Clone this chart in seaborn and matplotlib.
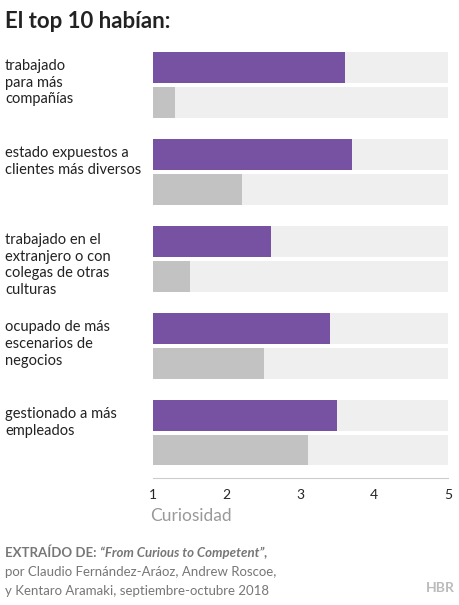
import matplotlib
matplotlib.use("Agg")
import matplotlib.pyplot as plt
import seaborn as sns

labels = ["trabajado\npara más\ncompañías",
          "estado expuestos a\nclientes más diversos",
          "trabajado en el\nextranjero o con\ncolegas de otras\nculturas",
          "ocupado de más\nescenarios de\nnegocios",
          "gestionado a más\nempleados"]
top10 = [3.6, 3.7, 2.6, 3.4, 3.5]
others = [1.3, 2.2, 1.5, 2.5, 3.1]
ticks = [1, 2, 3, 4, 5]

sns.set_style("white")
plt.rcParams['font.family'] = ['Lato', 'DejaVu Sans']

fig = plt.figure(figsize=(4.6, 6.05), dpi=100)
W, H = 460, 605
ax = fig.add_axes([153 / W, 1 - 465 / H, 295 / W, 413 / H])

step, bh, gap = 87, 31, 4
for i in range(len(labels)):
    y0 = i * step
    for y, v, c in [(y0, top10[i], "#7752a3"), (y0 + bh + gap, others[i], "#c2c2c2")]:
        ax.barh(y, 5 - 1, left=1, height=bh, align='edge', color="#efefef", lw=0)
        ax.barh(y, v - 1, left=1, height=bh, align='edge', color=c, lw=0)
    fig.text(5 / W, 1 - (y0 + 52 + 7) / H, labels[i], ha='left', va='top',
             fontsize=10.5, color="#222222", linespacing=1.25)

ax.set_xlim(1, 5)
ax.set_ylim(413, 0)
ax.set_yticks([])
ax.set_xticks(ticks)
ax.set_xticklabels([str(t) for t in ticks], fontsize=12, color="#999999")
ax.tick_params(axis='x', length=0, pad=8)
sns.despine(ax=ax, left=True, top=True, right=True)
ax.spines['bottom'].set_color("#cccccc")
ax.spines['bottom'].set_position(('data', 413 + 13))
ax.set_xlabel("Curiosidad", fontsize=12.5, color="#999999", loc='left', labelpad=-2)
ax.xaxis.set_label_coords(-0.01, -0.105)

fig.text(5 / W, 1 - 22 / H, "El top 10 habían:", fontsize=16, fontweight='bold',
         color="#222222", va='center')

fy = 553
t = fig.text(5 / W, 1 - fy / H, "EXTRAÍDO DE: ", fontsize=9.5, fontweight='bold',
             color="#777777", va='center')
fig.canvas.draw()
bb = t.get_window_extent()
fig.text(bb.x1 / W, 1 - fy / H, "“From Curious to Competent”,", fontsize=9.5,
         fontweight='bold', style='italic', color="#777777", va='center')
fig.text(5 / W, 1 - 572 / H, "por Claudio Fernández-Aráoz, Andrew Roscoe,",
         fontsize=9.5, color="#777777", va='center')
fig.text(5 / W, 1 - 591 / H, "y Kentaro Aramaki, septiembre-octubre 2018",
         fontsize=9.5, color="#777777", va='center')
fig.text(455 / W, 1 - 588 / H, "HBR", fontsize=10, fontweight='bold',
         color="#bbbbbb", ha='right', va='center')

fig.savefig("out.png", dpi=100)
